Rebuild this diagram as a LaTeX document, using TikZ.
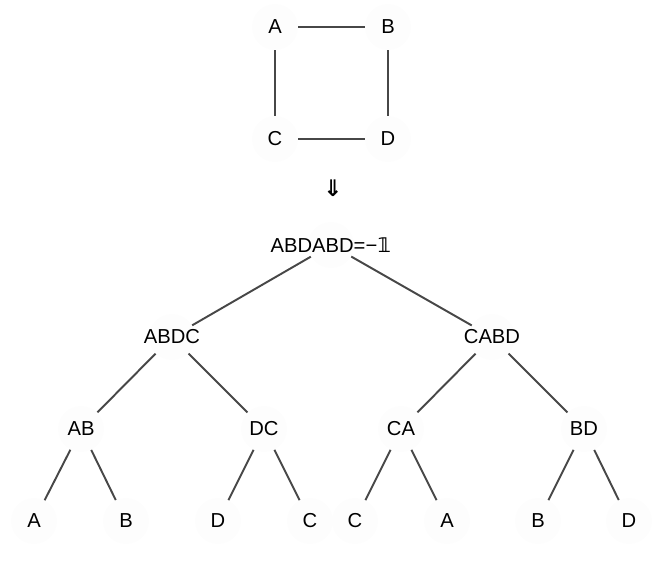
\documentclass[tikz,border=0pt]{standalone}
\usepackage{fontspec}
\setmainfont{Liberation Sans}
\newfontfamily\symfont{DejaVu Sans}
\begin{document}
\begin{tikzpicture}[x=0.02cm, y=-0.02cm,
    every node/.style={font=\fontsize{11.5}{13}\selectfont},
    vtx/.style={circle, fill=black!0.8, inner sep=0pt, minimum size=0.92cm},
    edge/.style={draw=black!72, line width=1.1pt}]

        \useasboundingbox (0,0) rectangle (667,561);

        % the square
        \node[vtx] (qa) at (275,27) {\makebox[0pt]{A}};
        \node[vtx] (qb) at (388,27) {\makebox[0pt]{B}};
        \node[vtx] (qc) at (275,139) {\makebox[0pt]{C}};
        \node[vtx] (qd) at (388,139) {\makebox[0pt]{D}};

        \node (arr) at (333,188) {\fontsize{13}{15}\selectfont\symfont\bfseries ⇓};

        % the tree
        \node[vtx] (n0) at (331,245) {\makebox[0pt]{ABDABD=−{\symfont\bfseries 𝟙}}};

        \node[vtx] (n1) at (172,337) {\makebox[0pt]{ABDC}};
        \node[vtx] (n2) at (492,337) {\makebox[0pt]{CABD}};

        \node[vtx] (n11) at (81,429) {\makebox[0pt]{AB}};
        \node[vtx] (n12) at (264,429) {\makebox[0pt]{DC}};
        \node[vtx] (n21) at (401,429) {\makebox[0pt]{CA}};
        \node[vtx] (n22) at (584,429) {\makebox[0pt]{BD}};

        \node[vtx] (n111) at (34,521) {\makebox[0pt]{A}};
        \node[vtx] (n112) at (126,521) {\makebox[0pt]{B}};
        \node[vtx] (n121) at (218,521) {\makebox[0pt]{D}};
        \node[vtx] (n122) at (310,521) {\makebox[0pt]{C}};
        \node[vtx] (n211) at (355,521) {\makebox[0pt]{C}};
        \node[vtx] (n212) at (447,521) {\makebox[0pt]{A}};
        \node[vtx] (n221) at (538,521) {\makebox[0pt]{B}};
        \node[vtx] (n222) at (629,521) {\makebox[0pt]{D}};

        % square edges
        \draw[edge] (qa) -- (qb);
        \draw[edge] (qa) -- (qc);
        \draw[edge] (qb) -- (qd);
        \draw[edge] (qc) -- (qd);

        % tree edges
        \draw[edge] (n0) -- (n1);
        \draw[edge] (n0) -- (n2);

        \draw[edge] (n1) -- (n11);
        \draw[edge] (n1) -- (n12);
        \draw[edge] (n2) -- (n21);
        \draw[edge] (n2) -- (n22);

        \draw[edge] (n11) -- (n111);
        \draw[edge] (n11) -- (n112);
        \draw[edge] (n12) -- (n121);
        \draw[edge] (n12) -- (n122);
        \draw[edge] (n21) -- (n211);
        \draw[edge] (n21) -- (n212);
        \draw[edge] (n22) -- (n221);
        \draw[edge] (n22) -- (n222);

\end{tikzpicture}
\end{document}
